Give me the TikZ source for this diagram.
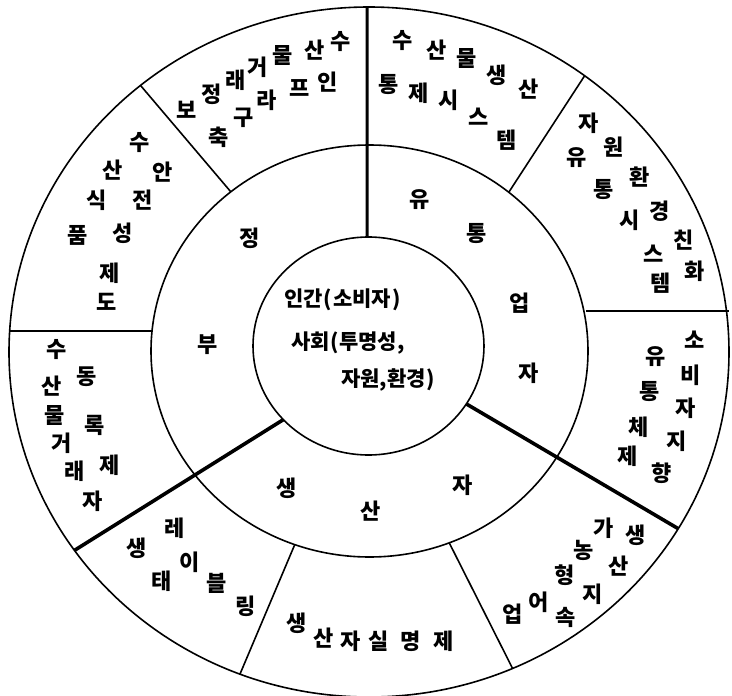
\documentclass[tikz,border=0pt]{standalone}
\usepackage{fontspec}
\setmainfont{Noto Sans CJK KR}
\begin{document}
\begin{tikzpicture}[x=1pt,y=-1pt,
  ring/.style={line width=1.6pt},
  thinline/.style={line width=1.6pt},
  thickline/.style={line width=3.6pt},
  ch/.style={inner sep=0pt,font=\bfseries\fontsize{22}{22}\selectfont},
  core/.style={inner sep=0pt,anchor=west,font=\bfseries\fontsize{21}{21}\selectfont}]
\useasboundingbox (0,0) rectangle (732,696);
\clip (0,0) rectangle (732,696);
% centres
\coordinate (OC) at (369,352);
\coordinate (MC) at (369.5,351);
\coordinate (IC) at (368.5,346);
% ellipses
\draw[ring] (OC) ellipse [x radius=360pt, y radius=345pt];
\draw[ring] (MC) ellipse [x radius=218.5pt, y radius=206pt];
\draw[ring] (IC) ellipse [x radius=115.5pt, y radius=109pt];
% points on ellipses
\path (OC) ++(90.3:360pt and 345pt) coordinate (o1);
\path (IC) ++(90.7:115.5pt and 109pt) coordinate (i1);
\path (OC) ++(129.4:360pt and 345pt) coordinate (o2);
\path (MC) ++(129.4:218.5pt and 206pt) coordinate (m2);
\path (OC) ++(53.2:360pt and 345pt) coordinate (o3);
\path (MC) ++(50.4:218.5pt and 206pt) coordinate (m3);
\coordinate (o4) at (9,331);
\coordinate (m4) at (152,331);
\coordinate (o5) at (729,311);
\coordinate (m5) at (586,311);
\path (OC) ++(215.1:360pt and 345pt) coordinate (o6);
\path (IC) ++(222.5:115.5pt and 109pt) coordinate (i6);
\path (OC) ++(-30.8:360pt and 345pt) coordinate (o7);
\path (IC) ++(-32.1:115.5pt and 109pt) coordinate (i7);
\path (OC) ++(249.0:360pt and 345pt) coordinate (o8);
\path (MC) ++(250.0:218.5pt and 206pt) coordinate (m8);
\path (OC) ++(293.5:360pt and 345pt) coordinate (o9);
\path (MC) ++(291.4:218.5pt and 206pt) coordinate (m9);
% dividers
\draw[line width=3pt] (o1) -- (i1);
\draw[thickline] (i6) -- (o6);
\draw[thickline] (i7) -- (o7);
\draw[thinline] (m2) -- (o2);
\draw[thinline] (m3) -- (o3);
\draw[thinline] (m4) -- (o4);
\draw[thinline] (m5) -- (o5);
\draw[thinline] (m8) -- (o8);
\draw[thinline] (m9) -- (o9);
% outer ring texts
\foreach \n/\x/\y/\c in {
  t1/341/42/수, t2/315/50/산, t3/283/56/물, t4/258/67/거, t5/236/80/래, t6/212/94/정, t7/187/110/보,
  t8/328/82/인, t9/300/88/프, t10/267/100/라, t11/244/118/구, t12/219/137/축,
  l1/140/143/수, l2/113/170/산, l3/163/172/안, l4/97/200/식, l5/143/200/전, l6/78/235/품, l7/123/233/성, l8/110/273/제, l9/107/302/도,
  m1/57/350/수, m2/52/386/산, m3/87/377/동, m4/55/416/물, m5/95/425/록, m6/62/443/거, m7/110/465/제, m8/75/471/래, m9/93/501/자,
  b1/137/548/생, b2/175/528/레, b3/190/562/이, b4/162/581/태, b5/217/583/블, b6/246/606/링,
  c1/297/623/생, c2/324/638/산, c3/351/641/자, c4/379/641/실, c5/411/641/명, c6/444/641/제,
  d1/604/528/가, d2/636/535/생, d3/584/550/농, d4/619/566/산, d5/565/575/형, d6/593/594/지, d7/513/614/업, d8/539/602/어, d9/566/617/속,
  e1/695/340/소, e2/691/375/비, e3/686/408/자, e4/677/441/지, e5/662/473/향, e6/656/357/유, e7/650/392/통, e8/639/427/체, e9/628/456/제,
  f1/589/123/자, f2/614/147/원, f3/640/177/환, f4/660/211/경, f5/684/240/친, f6/695/271/화, f7/577/158/유, f8/604/190/통, f9/630/220/시, f10/654/254/스, f11/661/283/템,
  g1/403/41/수, g2/437/50/산, g3/467/59/물, g4/497/75/생, g5/529/89/산, g6/389/85/통, g7/419/93/제, g8/449/100/시, g9/479/117/스, g10/507/140/템,
  p1/250/238/정, p2/208/345/부, q1/420/200/유, q2/477/234/통, q3/520/303/업, q4/529/373/자, r1/287/488/생, r2/371/511/산, r3/463/485/자}
  \node[ch] (\n) at (\x,\y) {\c};
% core texts
\node[core] (h1) at (284,300) {인간\hspace{1pt}(\hspace{1pt}소비자\hspace{1pt})};
\node[core] (h2) at (291,343) {사회\hspace{1pt}(투명성,};
\node[core] (h3) at (341,380) {자원,환경\hspace{1pt})};
\end{tikzpicture}
\end{document}
